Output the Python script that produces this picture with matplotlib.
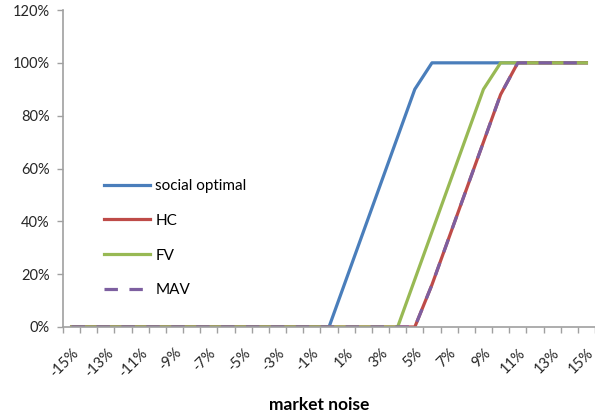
import matplotlib
matplotlib.use("Agg")
import matplotlib.pyplot as plt
import numpy as np

plt.rcParams['font.family'] = ['Lato', 'DejaVu Sans']

# market noise categories, -15% .. 15%
noise = list(range(-15, 16))
noise_labels = [f"{n}%" for n in noise]

# share (in %) for each scheme
social_optimal = [0]*15 + [0, 18, 36, 54, 72, 90] + [100]*10
hc = [0]*20 + [0, 16, 34, 52, 70, 88] + [100]*5
fv = [0]*19 + [0, 18, 36, 54, 72, 90] + [100]*6
mav = list(hc)

colors = {"social optimal": "#4A7EBB", "HC": "#BE4B48", "FV": "#98B954", "MAV": "#7D5FA0"}

fig = plt.figure(figsize=(5.95, 4.17), dpi=100)
ax = fig.add_axes([63/595, 90/417, 532/595, 317/417])

x = np.arange(len(noise))
lw = 2.3
ax.plot(x, np.array(social_optimal)/100, color=colors["social optimal"], lw=lw, label="social optimal")
ax.plot(x, np.array(hc)/100, color=colors["HC"], lw=lw, label="HC")
ax.plot(x, np.array(fv)/100, color=colors["FV"], lw=lw, label="FV")
ax.plot(x, np.array(mav)/100, color=colors["MAV"], lw=lw, label="MAV",
        dashes=(4.2, 3.6), dash_capstyle='butt')

ax.set_xlim(-0.5, len(noise) - 0.5)
ax.set_ylim(0, 1.2)
yt = np.arange(0, 1.21, 0.2)
ax.set_yticks(yt)
ax.set_yticklabels([f"{int(round(v*100))}%" for v in yt])

# labels on every other category, tick marks between categories
ax.set_xticks(x[::2])
ax.set_xticklabels(noise_labels[::2], rotation=45, ha='right', rotation_mode='anchor')
ax.set_xticks(np.arange(-0.5, len(noise)), minor=True)
ax.tick_params(axis='x', which='major', length=0, pad=13.5, labelsize=10.5, labelcolor='#262626')
ax.tick_params(axis='x', which='minor', length=4, width=1, color='#A0A0A0')
ax.tick_params(axis='y', which='major', length=4.5, width=1, color='#A0A0A0', labelsize=10.5,
               labelcolor='#262626', pad=5)

for side in ("top", "right"):
    ax.spines[side].set_visible(False)
for side in ("left", "bottom"):
    ax.spines[side].set_color('#A0A0A0')
    ax.spines[side].set_linewidth(1.2)

ax.set_xlabel("market noise", fontsize=12.5, fontweight='bold')
ax.xaxis.set_label_coords(0.482, -0.22)

ax.legend(loc='upper left', bbox_to_anchor=(104/595, 1 - 179/417),
          bbox_transform=fig.transFigure, frameon=False, fontsize=11,
          handlelength=3.0, handletextpad=0.35, labelspacing=1.36,
          borderpad=0, borderaxespad=0)

fig.savefig("out.png", dpi=100)
